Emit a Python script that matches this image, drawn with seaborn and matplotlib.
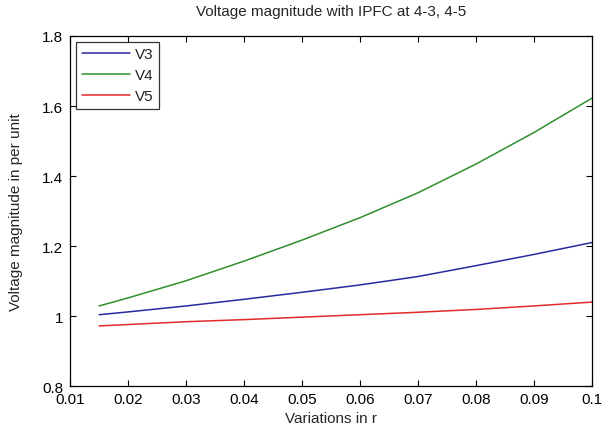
import numpy as np
import pandas as pd
import matplotlib
matplotlib.use("Agg")
import matplotlib.pyplot as plt
import seaborn as sns

r_vals = [0.015, 0.02, 0.03, 0.04, 0.05, 0.06, 0.07, 0.08, 0.09, 0.1]
v3 = [1.004, 1.012, 1.029, 1.048, 1.068, 1.089, 1.113, 1.144, 1.176, 1.21]
v4 = [1.029, 1.052, 1.101, 1.157, 1.217, 1.281, 1.352, 1.434, 1.524, 1.622]
v5 = [0.972, 0.976, 0.984, 0.990, 0.997, 1.004, 1.011, 1.019, 1.029, 1.040]
series = ["V3", "V4", "V5"]
colors = ["#2a2aa0", "#2f8f2f", "#e02a2a"]

df = pd.DataFrame({"r": r_vals * 3,
                   "v": v3 + v4 + v5,
                   "bus": np.repeat(series, len(r_vals))})

sns.set_theme(style="white")
plt.rcParams["font.family"] = ["Liberation Sans", "DejaVu Sans"]
plt.rcParams["xtick.direction"] = "in"
plt.rcParams["ytick.direction"] = "in"

fig = plt.figure(figsize=(6.1, 4.35), dpi=100)
ax = fig.add_axes([0.115, 0.11, 0.855, 0.805])
sns.lineplot(data=df, x="r", y="v", hue="bus", palette=colors, lw=1.1, ax=ax)

ax.set_xlim(0.01, 0.1)
ax.set_ylim(0.8, 1.8)
ax.set_xticks(np.arange(0.01, 0.1001, 0.01))
ax.set_xticklabels(["0.01", "0.02", "0.03", "0.04", "0.05", "0.06", "0.07", "0.08", "0.09", "0.1"])
ax.set_yticks([0.8, 1.0, 1.2, 1.4, 1.6, 1.8])
ax.set_yticklabels(["0.8", "1", "1.2", "1.4", "1.6", "1.8"])
ax.tick_params(axis="both", labelsize=11, colors="black", length=4, width=0.8,
               top=True, right=True, bottom=True, left=True)
ax.tick_params(axis="x", pad=4)
ax.tick_params(axis="y", pad=5)
for s in ax.spines.values():
    s.set_color("black")
    s.set_linewidth(0.9)

ax.set_xlabel("Variations in r", fontsize=11, labelpad=4)
ax.set_ylabel("Voltage magnitude in per unit", fontsize=11, labelpad=14)
ax.set_title("Voltage magnitude with IPFC at 4-3, 4-5", fontsize=11, pad=15)

leg = ax.legend(loc="upper left", fontsize=11, frameon=True, fancybox=False,
                borderaxespad=0.4, handlelength=3.2, labelspacing=0.45,
                borderpad=0.35, handletextpad=0.3)
leg.get_frame().set_edgecolor("black")
leg.get_frame().set_linewidth(0.9)

fig.savefig("out.png", dpi=100)
